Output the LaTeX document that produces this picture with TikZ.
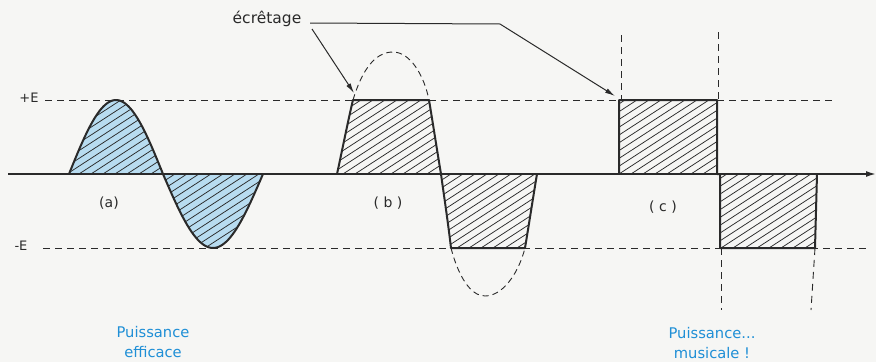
\documentclass[tikz,border=0pt]{standalone}
\usepackage{fontspec}
\setmainfont{DejaVu Sans}
\usetikzlibrary{arrows.meta}
\definecolor{ink}{HTML}{2A2A2A}
\definecolor{lblue}{HTML}{B8DCF0}
\definecolor{tblue}{HTML}{1F8FD6}
\definecolor{paper}{HTML}{F6F6F4}
\newcommand\hatchfill{\foreach \hx in {-420,-408,...,900} \draw[hatchline] (\hx,272) -- ++(419,-272);}
\newcommand\posa{plot[domain=69:163,samples=50] (\x,{174-74*sin(1.91489*(\x-69))})}
\newcommand\nega{plot[domain=163:263,samples=50] (\x,{174+74*sin(1.8*(\x-163))})}
\begin{document}
\begin{tikzpicture}[x=1pt,y=-1pt,
  wave/.style={draw=ink,line width=2pt,line join=round},
  guide/.style={draw=ink,line width=0.9pt,dash pattern=on 7pt off 5pt},
  overshoot/.style={draw=ink,line width=0.9pt,dash pattern=on 6pt off 4pt},
  hatchline/.style={draw=ink,line width=0.75pt},
  lbl/.style={font=\fontsize{14}{16}\selectfont,text=ink,inner sep=0pt},
  note/.style={font=\fontsize{14.7}{19.5}\selectfont,text=tblue,align=center,inner sep=0pt},
  lead/.style={draw=ink,line width=1pt},
  tip/.style={-{Latex[length=10pt,width=5pt]}}
]
\fill[paper] (0,0) rectangle (876,362);
\useasboundingbox (0,0) rectangle (876,362);

% guide lines
\coordinate (pEa) at (45,100);  \coordinate (pEb) at (835,100);
\coordinate (mEa) at (43,248);  \coordinate (mEb) at (866,248);
\draw[guide] (pEa) -- (pEb);
\draw[guide] (mEa) -- (mEb);
\coordinate (v1a) at (621,35);  \coordinate (v1b) at (621,100);
\coordinate (v2a) at (718,32);  \coordinate (v2b) at (718,100);
\coordinate (v3a) at (721,248); \coordinate (v3b) at (721,310);
\coordinate (v4a) at (815,248); \coordinate (v4b) at (811,310);
\draw[guide] (v1a) -- (v1b);
\draw[guide] (v2a) -- (v2b);
\draw[guide] (v3a) -- (v3b);
\draw[guide] (v4a) -- (v4b);

% (a) sine
\fill[lblue] \posa -- cycle;
\fill[lblue] \nega -- cycle;
\begin{scope}
  \clip \posa -- cycle;
  \hatchfill
\end{scope}
\begin{scope}
  \clip \nega -- cycle;
  \hatchfill
\end{scope}
\draw[wave] \posa;
\draw[wave] \nega;

% (b) clipped sine
\begin{scope}
  \clip (337,174) .. controls (341,156) and (349,116) .. (353,100) -- (429,100)
        .. controls (433,124) and (437,150) .. (441,174) -- cycle;
  \hatchfill
\end{scope}
\begin{scope}
  \clip (441,174) .. controls (444,196) and (448,222) .. (451,248) -- (525,248)
        .. controls (529,224) and (533,198) .. (537,174) -- cycle;
  \hatchfill
\end{scope}
\draw[wave] (337,174) .. controls (341,156) and (349,116) .. (353,100) -- (429,100)
        .. controls (433,124) and (437,150) .. (441,174)
        .. controls (444,196) and (448,222) .. (451,248) -- (525,248)
        .. controls (529,224) and (533,198) .. (537,174);
\draw[overshoot] (353,100) .. controls (362,70) and (375,52) .. (393,52)
        .. controls (410,52) and (424,75) .. (429,100);
\draw[overshoot] (451,248) .. controls (458,275) and (470,296) .. (485,296)
        .. controls (502,296) and (518,275) .. (525,248);

% (c) square wave
\begin{scope}
  \clip (619,174) -- (619,100) -- (717,100) -- (717,174) -- cycle;
  \hatchfill
\end{scope}
\begin{scope}
  \clip (720,174) -- (817,174) -- (815,248) -- (720,248) -- cycle;
  \hatchfill
\end{scope}
\draw[wave] (619,174) -- (619,100) -- (717,100) -- (717,174)
            -- (720,174) -- (720,248) -- (815,248) -- (817,174);

% axis
\coordinate (axL) at (8,174);
\coordinate (axR) at (876,174);
\draw[ink,line width=1.6pt,-{Latex[length=10pt,width=6pt]}] (axL) -- (axR);

% labels
\node[lbl,font=\fontsize{13}{15}\selectfont] (pE) at (29,98) {+E};
\node[lbl,font=\fontsize{13}{15}\selectfont] (mE) at (21,246) {-E};
\node[lbl] (la) at (109,203) {(a)};
\node[lbl] (lb) at (388,203) {( b )};
\node[lbl] (lc) at (663,207) {( c )};
\node[lbl,font=\fontsize{15.5}{17}\selectfont] (ec) at (267,19) {écrêtage};
\node[note] (pe) at (153,342) {Puissance\\efficace};
\node[note] (pm) at (712,343) {Puissance...\\musicale !};

% leaders
\coordinate (s1) at (310,23);
\coordinate (bend) at (500,24);
\coordinate (tipc) at (615,96);
\coordinate (s2) at (312,29);
\coordinate (tipb) at (354,93);
\draw[lead,tip] (s1) -- (bend) -- (tipc);
\draw[lead,tip] (s2) -- (tipb);
\end{tikzpicture}
\end{document}
